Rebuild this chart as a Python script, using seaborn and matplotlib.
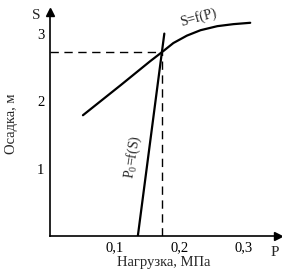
import seaborn as sns
import matplotlib.pyplot as plt
import pandas as pd

# S = f(P) curve (settlement vs load)
load_p = [0.051, 0.11, 0.155, 0.174, 0.191, 0.212, 0.233, 0.259, 0.284, 0.310]
settle_s = [1.79, 2.24, 2.59, 2.73, 2.86, 2.97, 3.05, 3.11, 3.14, 3.16]

# P0 = f(S) line
p0_vals = [0.136, 0.177]
p0_s = [0.0, 3.0]

# intersection point
p_cross = 0.174
s_cross = 2.73

x_ticks = [0.1, 0.2, 0.3]
x_ticklabels = ['0,1', '0,2', '0,3']
y_ticks = [1, 2, 3]
y_ticklabels = ['1', '2', '3']

sns.set_style('white')
plt.rcParams['font.family'] = ['Liberation Serif', 'DejaVu Serif']
plt.rcParams['mathtext.default'] = 'regular'

fig = plt.figure(figsize=(2.82, 2.78), dpi=100)
ax = fig.add_axes([50 / 282, 42 / 278, 228 / 282, 224 / 278])

df_sp = pd.DataFrame({'P': load_p, 'S': settle_s})
df_p0 = pd.DataFrame({'P': p0_vals, 'S': p0_s})

sns.lineplot(data=df_sp, x='P', y='S', sort=False, estimator=None, color='black', lw=1.6, ax=ax)
sns.lineplot(data=df_p0, x='P', y='S', sort=False, estimator=None, color='black', lw=1.6, ax=ax)

ax.plot([0, p_cross], [s_cross, s_cross], color='black', lw=1.0, ls=(0, (6, 4)))
ax.plot([p_cross, p_cross], [0, s_cross], color='black', lw=1.0, ls=(0, (6, 4)))

ax.set_xlim(0, 0.353)
ax.set_ylim(0, 3.32)
ax.set_xticks(x_ticks)
ax.set_xticklabels(x_ticklabels)
ax.set_yticks(y_ticks)
ax.set_yticklabels(y_ticklabels)
ax.tick_params(direction='in', length=4, width=1, labelsize=10.5, colors='black', pad=4)

for side in ['top', 'right']:
    ax.spines[side].set_visible(False)
for side in ['left', 'bottom']:
    ax.spines[side].set_color('black')
    ax.spines[side].set_linewidth(1.2)

# arrowheads on the axes
ax.plot(1, 0, '>', color='black', ms=6, transform=ax.transAxes, clip_on=False)
ax.plot(0, 1, '^', color='black', ms=6, transform=ax.transAxes, clip_on=False)

ax.set_xlabel('Нагрузка, МПа', fontsize=10.5, labelpad=1)
ax.set_ylabel('Осадка, м', fontsize=10.5, labelpad=14)

ax.text(-0.04, 0.985, 'S', transform=ax.transAxes, fontsize=11, ha='right', va='center')
ax.text(0.985, -0.045, 'P', transform=ax.transAxes, fontsize=11, ha='center', va='top')

ax.text(0.229, 3.07, 'S=f(P)', fontsize=10, rotation=15, ha='center', va='bottom')
ax.text(0.129, 1.17, r'P$_0$=f(S)', fontsize=10, rotation=81, ha='center', va='center')

fig.savefig('out.png', dpi=100)
